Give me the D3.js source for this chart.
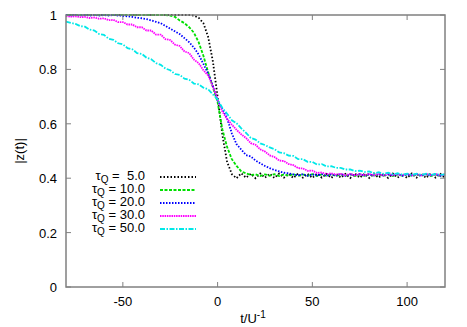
<!DOCTYPE html>
<html>
<head>
<meta charset="utf-8">
<script src="https://cdn.jsdelivr.net/npm/d3@7"></script>
<style>
  body { margin: 0; background: #fff; }
  text { font-family: "Liberation Sans", Arial, sans-serif; }
</style>
</head>
<body>
<div id="chart"></div>
<script>
// time grid, step 2.5 from -80 to 120
const times = d3.range(-80, 120.001, 2.5);

const tau5 = [
  1,1,1,1,1,1,1,1,1,1,1,1,1,1,1,1,1,1,1,1,1,1,1,1,1,1,1,
  0.998,0.99,0.97,0.92,0.83,
  0.70,0.56,0.46,0.415,0.40,0.418,0.402,0.416,0.40,0.417,
  0.402,0.416,0.401,0.417,0.402,0.416,0.401,0.417,0.402,0.416,
  0.401,0.417,0.402,0.416,0.401,0.417,0.402,0.416,0.401,0.417,
  0.402,0.416,0.401,0.417,0.402,0.416,0.401,0.417,0.402,0.416,
  0.401,0.417,0.402,0.416,0.401,0.417,0.402,0.416,0.401
];
const tau10 = [
  1,1,1,1,1,1,1,1,1,1,1,1,1,1,1,1,1,1,1,1,1,1,
  0.998,0.993,0.98,0.97,0.955,0.935,0.90,0.85,0.79,0.735,
  0.68,0.58,0.515,0.47,0.445,0.425,0.418,0.412,0.414,0.408,
  0.414,0.409,0.415,0.408,0.414,0.409,0.415,0.408,0.414,0.409,
  0.415,0.408,0.414,0.409,0.415,0.408,0.414,0.409,0.415,0.408,
  0.414,0.409,0.415,0.408,0.414,0.409,0.415,0.408,0.414,0.409,
  0.415,0.408,0.414,0.409,0.415,0.408,0.414,0.409,0.414
];
const tau20 = [
  1,0.998,1,0.998,1,0.998,1,0.998,1,0.998,1,0.998,
  0.997,0.995,0.993,0.99,0.988,0.985,0.98,0.975,0.97,0.96,
  0.95,0.94,0.93,0.915,0.90,0.88,0.855,0.82,0.785,0.74,
  0.685,0.655,0.62,0.565,0.525,0.505,0.485,0.48,0.465,0.455,
  0.445,0.437,0.43,0.425,0.42,0.418,0.414,0.41,0.415,0.409,
  0.414,0.41,0.415,0.409,0.414,0.41,0.415,0.409,0.414,0.41,
  0.415,0.409,0.414,0.41,0.415,0.409,0.414,0.41,0.415,0.409,
  0.414,0.41,0.415,0.409,0.414,0.41,0.415,0.409,0.414
];
const tau30 = [
  0.996,0.994,0.995,0.992,0.993,0.989,0.991,0.986,0.988,0.981,
  0.982,0.974,0.974,0.965,0.965,0.955,0.955,0.943,0.943,0.928,
  0.928,0.911,0.908,0.891,0.886,0.866,0.86,0.836,0.823,0.797,
  0.778,0.737,
  0.69,0.645,0.618,0.597,0.578,0.561,0.548,0.529,0.523,0.506,
  0.498,0.484,0.478,0.465,0.463,0.452,0.448,0.437,0.436,0.427,
  0.428,0.419,0.421,0.415,0.418,0.413,0.416,0.411,0.416,0.411,
  0.415,0.411,0.416,0.411,0.415,0.411,0.416,0.411,0.415,0.411,
  0.416,0.411,0.415,0.411,0.416,0.411,0.415,0.411,0.413
];
const tau50 = [
  0.976,0.971,0.967,0.959,0.957,0.946,0.943,0.93,0.927,0.913,
  0.909,0.896,0.892,0.878,0.874,0.86,0.857,0.843,0.837,0.823,
  0.817,0.803,0.797,0.783,0.78,0.766,0.762,0.748,0.745,0.733,
  0.727,0.708,
  0.69,0.658,0.637,0.613,0.602,0.583,0.567,0.548,0.542,0.528,
  0.522,0.513,0.507,0.495,0.492,0.483,0.482,0.47,0.47,0.46,
  0.46,0.45,0.452,0.443,0.444,0.438,0.438,0.432,0.432,0.426,
  0.428,0.423,0.425,0.418,0.422,0.416,0.42,0.414,0.418,0.413,
  0.417,0.412,0.417,0.412,0.417,0.412,0.416,0.412,0.414
];

const seriesValues = [tau5, tau10, tau20, tau30, tau50];
const seriesLabels = [" 5.0", "10.0", "20.0", "30.0", "50.0"];
const seriesColors = ["#000000", "#00e000", "#0000ff", "#ff00ff", "#00e8e8"];
const seriesDash = ["1.5,2", "3,1.5", "1.5,1.5", "1.5,0.8", "5,1.5,1.5,1.5"];

const xTicks = [-50, 0, 50, 100];
const yTicks = [0, 0.2, 0.4, 0.6, 0.8, 1];

const W = 467, H = 327;
const margin = {top: 15, right: 22, bottom: 40, left: 66};

const svg = d3.select("#chart").append("svg")
  .attr("width", W).attr("height", H);

const x = d3.scaleLinear().domain([-80, 120]).range([margin.left, W - margin.right]);
const y = d3.scaleLinear().domain([0, 1]).range([H - margin.bottom, margin.top]);

const axisColor = "#808080";

// ticks (inward, mirrored)
const tickLen = 5;
xTicks.forEach(t => {
  svg.append("line").attr("x1", x(t)).attr("x2", x(t))
    .attr("y1", y(0)).attr("y2", y(0) - tickLen)
    .attr("stroke", axisColor).attr("stroke-width", 1);
  svg.append("line").attr("x1", x(t)).attr("x2", x(t))
    .attr("y1", y(1)).attr("y2", y(1) + tickLen)
    .attr("stroke", axisColor).attr("stroke-width", 1);
  svg.append("text").attr("x", x(t)).attr("y", y(0) + 19)
    .attr("text-anchor", "middle").attr("font-size", 13).text(t);
});
yTicks.forEach(v => {
  svg.append("line").attr("x1", x(-80)).attr("x2", x(-80) + tickLen)
    .attr("y1", y(v)).attr("y2", y(v))
    .attr("stroke", axisColor).attr("stroke-width", 1);
  svg.append("line").attr("x1", x(120)).attr("x2", x(120) - tickLen)
    .attr("y1", y(v)).attr("y2", y(v))
    .attr("stroke", axisColor).attr("stroke-width", 1);
  svg.append("text").attr("x", x(-80) - 9).attr("y", y(v) + 5)
    .attr("text-anchor", "end").attr("font-size", 13)
    .text(v === 0 || v === 1 ? v : v.toFixed(1));
});

// curves
const line = d3.line()
  .x((d, i) => x(times[i]))
  .y(d => y(d));

seriesValues.forEach((vals, k) => {
  svg.append("path").datum(vals)
    .attr("d", line)
    .attr("fill", "none")
    .attr("stroke", seriesColors[k])
    .attr("stroke-width", 1.8)
    .attr("stroke-dasharray", seriesDash[k]);
});

// frame
svg.append("rect")
  .attr("x", x(-80)).attr("y", y(1))
  .attr("width", x(120) - x(-80)).attr("height", y(0) - y(1))
  .attr("fill", "none").attr("stroke", axisColor).attr("stroke-width", 1.5);

// legend
const legY = [177, 190, 203, 216, 229];
seriesLabels.forEach((lab, k) => {
  const t = svg.append("text").attr("x", 145).attr("y", legY[k] + 3)
    .attr("text-anchor", "end").attr("font-size", 13)
    .attr("xml:space", "preserve");
  t.append("tspan").text("τ");
  t.append("tspan").attr("dy", 3).attr("font-size", 10).text("Q");
  t.append("tspan").attr("dy", -3).text(" = " + lab);
  svg.append("line").attr("x1", 160).attr("x2", 196)
    .attr("y1", legY[k]).attr("y2", legY[k])
    .attr("stroke", seriesColors[k]).attr("stroke-width", 1.8)
    .attr("stroke-dasharray", seriesDash[k]);
});

// axis labels
const xl = svg.append("text").attr("x", 253).attr("y", 323)
  .attr("text-anchor", "middle").attr("font-size", 13);
xl.append("tspan").text("t/U");
xl.append("tspan").attr("dy", -5).attr("font-size", 10).text("-1");

svg.append("text")
  .attr("transform", "translate(24," + ((y(0) + y(1)) / 2) + ") rotate(-90)")
  .attr("text-anchor", "middle").attr("font-size", 13).text("|z(t)|");
</script>
</body>
</html>
